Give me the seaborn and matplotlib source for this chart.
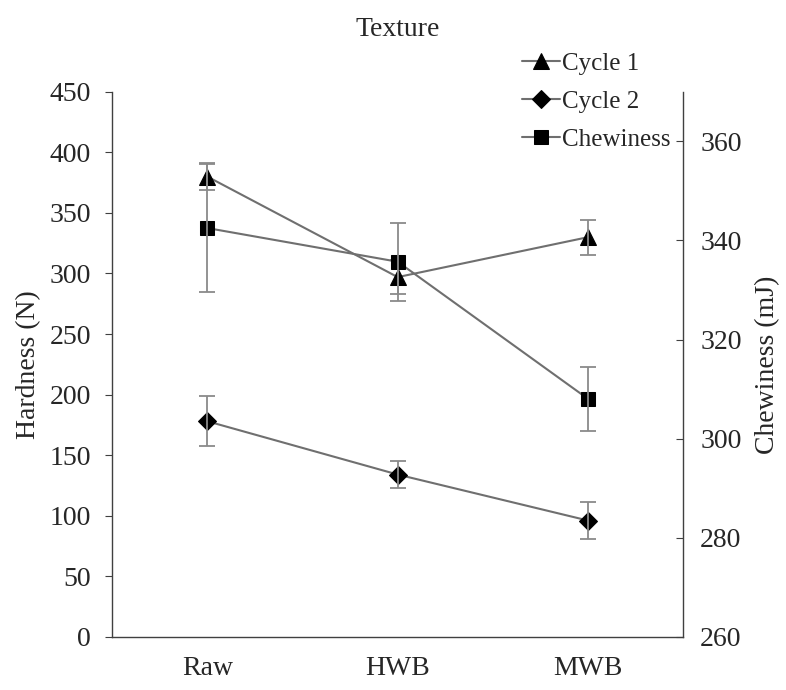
import seaborn as sns
import matplotlib.pyplot as plt
import pandas as pd

# data
samples = ["Raw", "HWB", "MWB"]
cycle1 = [380, 297, 330]
cycle1_err = [11, 14, 14.5]
cycle2 = [178, 134, 96]
cycle2_err = [20.5, 11.5, 15]
chewiness = [342.5, 335.7, 308.0]
chewiness_err = [12.9, 7.9, 6.4]

sns.set_style("ticks")
plt.rcParams["font.family"] = ["Liberation Serif", "DejaVu Serif"]

line_col = "#6f6f6f"
fs = 20

df = pd.DataFrame({"sample": samples, "c1": cycle1, "c2": cycle2, "chew": chewiness})

fig = plt.figure(figsize=(7.86, 6.9), dpi=100)
ax = fig.add_axes([0.1425, 0.077, 0.727, 0.79])
ax2 = ax.twinx()

# hardness (left axis)
sns.lineplot(data=df, x="sample", y="c1", ax=ax, color=line_col, lw=1.5,
             marker="^", markersize=12, markerfacecolor="black",
             markeredgecolor="black", label="Cycle 1", sort=False)
ax.errorbar(samples, cycle1, yerr=cycle1_err, fmt="none", ecolor="#8a8a8a",
            elinewidth=1.3, capsize=6, capthick=1.3)
sns.lineplot(data=df, x="sample", y="c2", ax=ax, color=line_col, lw=1.5,
             marker="D", markersize=9, markerfacecolor="black",
             markeredgecolor="black", label="Cycle 2", sort=False)
ax.errorbar(samples, cycle2, yerr=cycle2_err, fmt="none", ecolor="#8a8a8a",
            elinewidth=1.3, capsize=6, capthick=1.3)

# chewiness (right axis)
sns.lineplot(data=df, x="sample", y="chew", ax=ax2, color=line_col, lw=1.5,
             marker="s", markersize=10, markerfacecolor="black",
             markeredgecolor="black", label="Chewiness", sort=False)
ax2.errorbar(samples, chewiness, yerr=chewiness_err, fmt="none", ecolor="#8a8a8a",
             elinewidth=1.3, capsize=6, capthick=1.3)

ax.set_xlim(-0.5, 2.5)
ax.set_ylim(0, 450)
ax.set_yticks(range(0, 451, 50))
ax2.set_ylim(260, 370)
ax2.set_yticks(range(260, 361, 20))

ax.set_xlabel("")
ax.set_ylabel("Hardness (N)", fontsize=fs, labelpad=6)
ax2.set_ylabel("Chewiness (mJ)", fontsize=fs, labelpad=10)
ax.set_title("Texture", fontsize=fs, pad=40)

for a in (ax, ax2):
    a.spines["top"].set_visible(False)
    for s in a.spines.values():
        s.set_color("#404040")
        s.set_linewidth(1.0)
ax.spines["right"].set_visible(False)
ax2.spines["left"].set_visible(False)
ax2.spines["bottom"].set_visible(False)

ax.tick_params(axis="y", labelsize=fs, direction="out", length=5, color="#404040", pad=10)
ax.tick_params(axis="x", labelsize=fs, length=0, pad=14)
ax2.tick_params(axis="y", labelsize=fs, direction="in", length=5, color="#404040", pad=12)

# combined legend
h1, l1 = ax.get_legend_handles_labels()
h2, l2 = ax2.get_legend_handles_labels()
if ax.get_legend():
    ax.get_legend().remove()
if ax2.get_legend():
    ax2.get_legend().remove()
ax2.legend(h1 + h2, l1 + l2, loc="upper left", bbox_to_anchor=(0.70, 1.09),
           frameon=False, fontsize=18, handlelength=1.5, handletextpad=0.1,
           labelspacing=0.62, borderaxespad=0)

fig.savefig("out.png", dpi=100)
